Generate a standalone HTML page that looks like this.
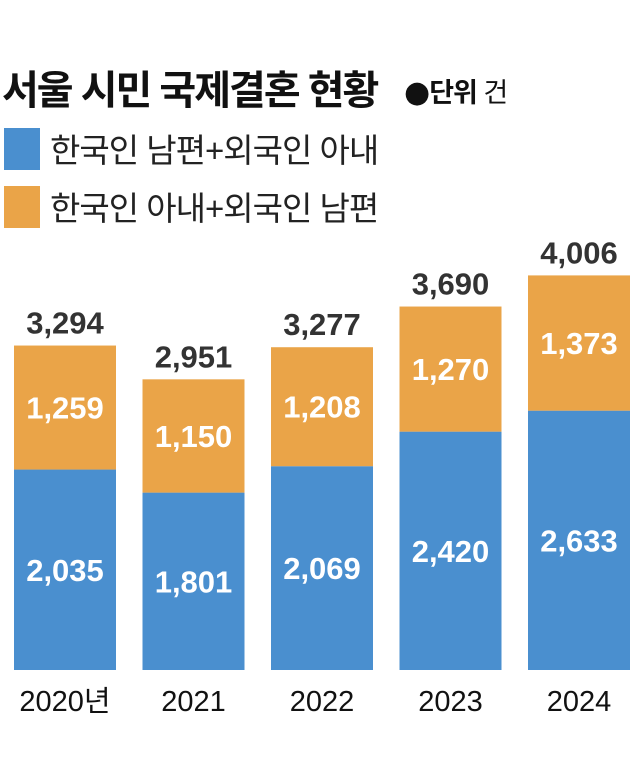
<!DOCTYPE html>
<html><head><meta charset="utf-8"><style>
body{margin:0;background:#fff;width:640px;height:770px;overflow:hidden}
text{font-family:"Liberation Sans","Noto Sans CJK KR",sans-serif}
</style></head><body>
<svg width="640" height="770">
<text x="2" y="104" font-size="40" font-weight="bold" fill="#111" letter-spacing="-2">서울 시민 국제결혼 현황</text>
<text x="404" y="102" font-size="27" font-weight="bold" fill="#111" letter-spacing="-1"><tspan font-size="30" font-family="DejaVu Sans">●</tspan>단위 <tspan font-weight="normal">건</tspan></text>
<rect x="4" y="128" width="36" height="42" fill="#4a8fcf"/>
<text x="50" y="162" font-size="33" fill="#222" letter-spacing="-1">한국인 남편+외국인 아내</text>
<rect x="4" y="186" width="36" height="42" fill="#eaa448"/>
<text x="50" y="220" font-size="33" fill="#222" letter-spacing="-1">한국인 아내+외국인 남편</text>
<g id="bars"></g>
</svg>
<script>
const categories=["2020년","2021","2022","2023","2024"];
const blueVals=[2035,1801,2069,2420,2633];
const orangeVals=[1259,1150,1208,1270,1373];
const totals=[3294,2951,3277,3690,4006];
const base=670, scale=0.0985, x0=14, step=128.5, bw=102;
const y=v=>base-v*scale;
const xs=i=>x0+i*step;
const g=document.getElementById('bars');
const NS="http://www.w3.org/2000/svg";
const fmt=n=>n.toLocaleString('en-US');
function mk(tag,attrs,txt){const e=document.createElementNS(NS,tag);for(const k in attrs)e.setAttribute(k,attrs[k]);if(txt!=null)e.textContent=txt;g.appendChild(e);return e;}
categories.forEach((c,i)=>{
  const x=xs(i),b=blueVals[i],o=orangeVals[i],cx=x+bw/2;
  let r=mk('rect',{x:x,y:y(b),width:bw,height:base-y(b),fill:'#4a8fcf'});
  
  
  r=mk('rect',{x:x,y:y(b+o),width:bw,height:y(b)-y(b+o),fill:'#eaa448'});
  
  
  let t=mk('text',{x:cx,y:(y(b)+base)/2+11,'font-size':31,'font-weight':'bold',fill:'#fff','text-anchor':'middle'},fmt(b));
  
  
  t=mk('text',{x:cx,y:(y(b)+y(b+o))/2+11,'font-size':31,'font-weight':'bold',fill:'#fff','text-anchor':'middle'},fmt(o));
  
  
  t=mk('text',{x:cx,y:y(totals[i])-12,'font-size':31,'font-weight':'bold',fill:'#333','text-anchor':'middle'},fmt(totals[i]));
  
  
  t=mk('text',{x:cx,y:711,'font-size':29,fill:'#111','text-anchor':'middle'},c);
  
  
});
</script>
</body></html>
